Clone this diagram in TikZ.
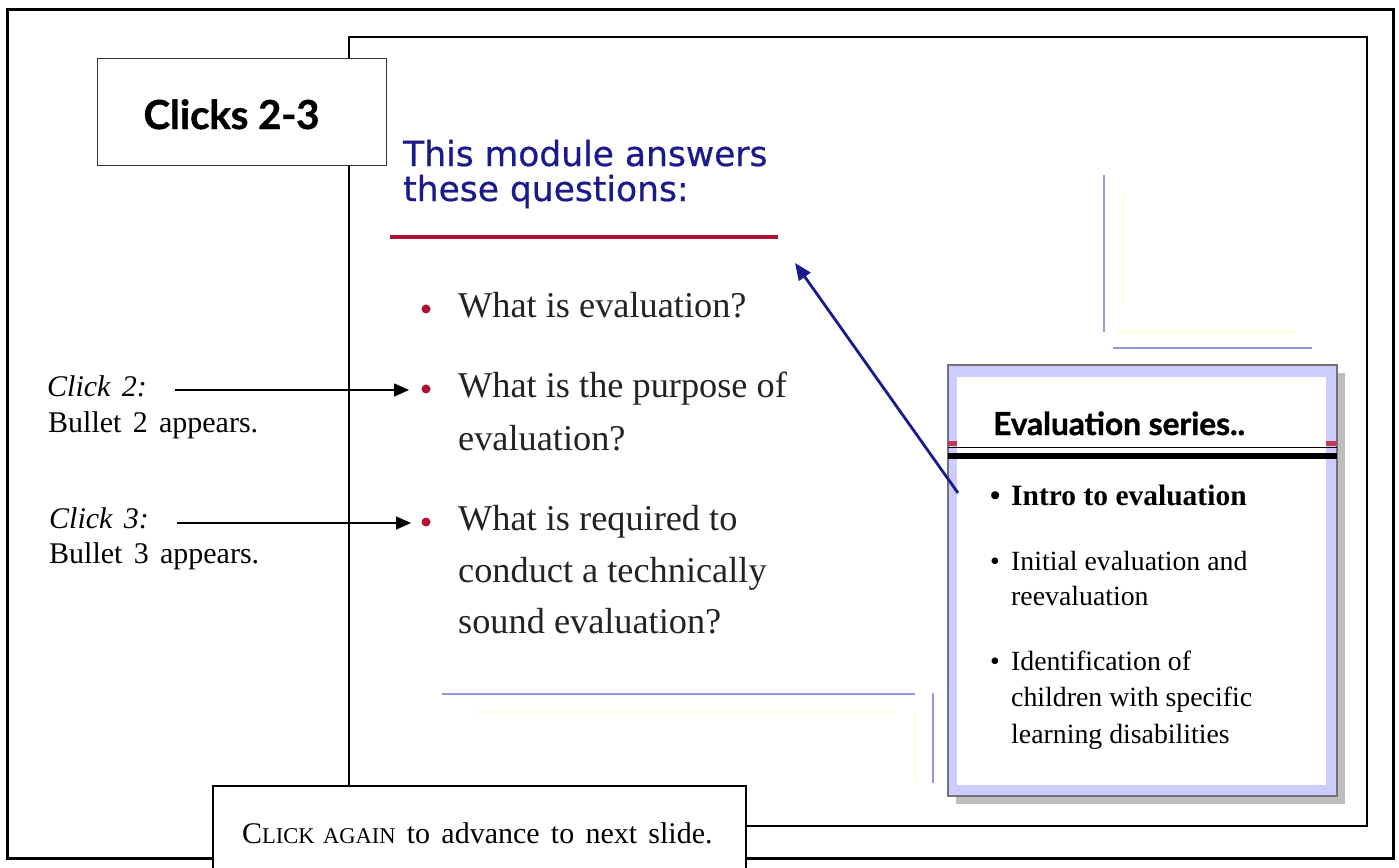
\documentclass[tikz,border=0pt]{standalone}
\usepackage{fontspec}
\setmainfont{Liberation Serif}
\newfontfamily\headfont{DejaVu Sans}[FakeBold=0.6]
\newfontfamily\gillfont{Lato}[BoldFeatures={FakeBold=1.2}]
\newfontfamily\notefont[WordSpace=1.5]{Liberation Serif}
\usetikzlibrary{arrows.meta}

\definecolor{slideblue}{RGB}{26,26,140}
\definecolor{slidered}{RGB}{178,16,52}
\definecolor{lav}{RGB}{204,204,255}
\definecolor{decoblue}{RGB}{150,150,225}
\definecolor{decoyellow}{RGB}{255,255,215}
\definecolor{bodygray}{RGB}{35,35,35}
\definecolor{shadowgray}{RGB}{190,190,190}
\definecolor{edgered}{RGB}{190,60,90}

\tikzset{
  frameline/.style={draw=black, line width=3pt},
  slideline/.style={draw=black, line width=2.5pt},
  labelbox/.style={draw=black!80, line width=1.2pt, fill=white, inner sep=0pt},
  decob/.style={draw=decoblue, line width=2.5pt},
  decoy/.style={draw=decoyellow, line width=2pt},
  qtext/.style={anchor=base west, inner sep=0pt, text=bodygray, font=\fontsize{36.3}{36.3}\selectfont},
  headtext/.style={anchor=base west, inner sep=0pt, text=slideblue, font=\headfont\fontsize{34.5}{34.5}\selectfont},
  reddot/.style={circle, fill=slidered, minimum size=9pt, inner sep=0pt},
  boxtext/.style={anchor=base west, inner sep=0pt, font=\fontsize{27.8}{27.8}\selectfont},
  notetext/.style={anchor=base west, inner sep=0pt, font=\notefont\fontsize{30}{30}\selectfont},
  clickarrow/.style={-{Triangle[length=15pt,width=13pt]}, line width=1.3pt},
  bluearrow/.style={-{Triangle[length=17pt,width=14pt]}, draw=slideblue, line width=2.8pt},
}

\begin{document}
\begin{tikzpicture}[x=1pt,y=-1pt]
\useasboundingbox (0,0) rectangle (1399,867);
\fill[white] (0,0) rectangle (1399,867);

% decorative corner rules on the slide
\draw[decoy] (1123,193) -- (1123,305);
\draw[decoy] (1122,332) -- (1295,332);
\draw[decob] (1104,175) -- (1104,332);
\draw[decob] (1113,348) -- (1312,348);
\draw[decoy] (476,712) -- (898,712);
\draw[decoy] (915,712) -- (915,782);
\draw[decob] (442,694) -- (915,694);
\draw[decob] (933,693) -- (933,783);

% page frame and slide frame
\draw[frameline] (7,10) rectangle (1393,858);
\draw[slideline] (349,37) rectangle (1367,826);

% title box
\node[labelbox, minimum width=289pt, minimum height=107pt, anchor=north west] (clicksbox) at (97,58) {};
\node[anchor=base, inner sep=0pt, font=\gillfont\bfseries\fontsize{40}{40}\selectfont] (clickstitle) at (231.5,129) {Clicks 2-3};

% slide heading
\node[headtext] (head1) at (403,166) {This module answers};
\node[headtext] (head2) at (403,201) {these questions:};
\draw[slidered, line width=4.5pt] (390,237) -- (778,237);

% slide bullets
\node[reddot] (dot1) at (426,309) {};
\node[qtext] (q1) at (458,317) {What is evaluation?};
\node[reddot] (dot2) at (426,389) {};
\node[qtext] (q2a) at (458,397) {What is the purpose of};
\node[qtext] (q2b) at (458,450) {evaluation?};
\node[reddot] (dot3) at (426,522) {};
\node[qtext] (q3a) at (458,530) {What is required to};
\node[qtext] (q3b) at (458,582) {conduct a technically};
\node[qtext] (q3c) at (458,633) {sound evaluation?};

% evaluation series panel
\fill[shadowgray] (956,373) rectangle (1345,804);
\path[fill=lav, draw=black!55, line width=1.2pt] (948,365) rectangle (1337,796);
\fill[white] (957,377) rectangle (1326,785);
\fill[edgered] (948,441) rectangle (957,446);
\fill[edgered] (1326,441) rectangle (1337,446);
\draw[line width=1pt] (948,447) -- (1337,447);
\draw[line width=6pt] (948,456) -- (1337,456);
\node[anchor=base west, inner sep=0pt, font=\gillfont\bfseries\fontsize{31.6}{31.6}\selectfont] (serieshead) at (993,435) {Evaluation series..};

\node[boxtext, font=\bfseries\fontsize{29.5}{29.5}\selectfont] (b1dot) at (990,505) {\textbullet};
\node[boxtext, font=\bfseries\fontsize{29.5}{29.5}\selectfont] (b1) at (1011,505) {Intro to evaluation};
\node[boxtext] (b2dot) at (990,570) {\textbullet};
\node[boxtext] (b2a) at (1011,570) {Initial evaluation and};
\node[boxtext] (b2b) at (1011,605) {reevaluation};
\node[boxtext] (b3dot) at (990,670) {\textbullet};
\node[boxtext] (b3a) at (1011,670) {Identification of};
\node[boxtext] (b3b) at (1011,706) {children with specific};
\node[boxtext] (b3c) at (1011,743) {learning disabilities};

% pointer from the panel to the heading
\coordinate (seriesfoot) at (958,493);
\coordinate (headpoint) at (795,263);
\draw[bluearrow] (seriesfoot) -- (headpoint);

% click notes
\node[notetext] (c2) at (47,396) {\itshape Click 2:};
\node[notetext] (c2b) at (48,432) {Bullet 2 appears.};
\node[notetext] (c3) at (49,528) {\itshape Click 3:};
\node[notetext] (c3b) at (49,563) {Bullet 3 appears.};
\coordinate (c2start) at (175,390);
\coordinate (c2end) at (409,390);
\coordinate (c3start) at (177,523);
\coordinate (c3end) at (411,523);
\draw[clickarrow] (c2start) -- (c2end);
\draw[clickarrow] (c3start) -- (c3end);

% advance note
\fill[white] (213,786) rectangle (746,875);
\draw[line width=1.5pt] (213,875) -- (213,786) -- (746,786) -- (746,875);
\node[anchor=base west, inner sep=0pt, font=\notefont\fontsize{30}{30}\selectfont] (advance) at (242,843)
  {C{\fontsize{22.5}{22.5}\selectfont LICK AGAIN} to advance to next slide.};
\end{tikzpicture}
\end{document}
